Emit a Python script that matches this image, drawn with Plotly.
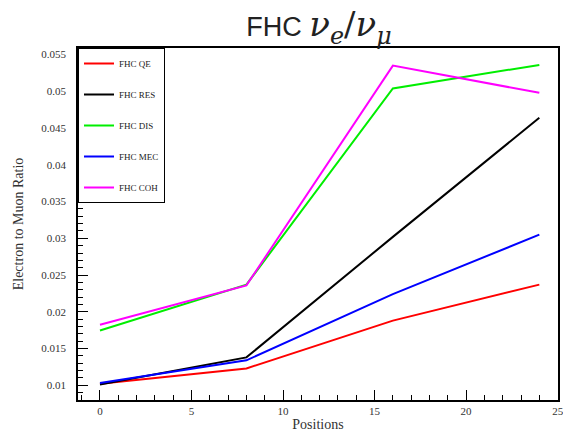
import plotly.graph_objects as go

positions = [0, 8, 16, 24]
fhc_qe = [0.0102, 0.0123, 0.0188, 0.0237]
fhc_res = [0.0101, 0.0138, 0.0302, 0.0464]
fhc_dis = [0.01745, 0.0237, 0.0504, 0.0536]
fhc_mec = [0.0103, 0.0134, 0.0224, 0.0305]
fhc_coh = [0.01825, 0.0236, 0.0535, 0.0498]

series = [
    ("FHC QE", fhc_qe, "#ff0000"),
    ("FHC RES", fhc_res, "#000000"),
    ("FHC DIS", fhc_dis, "#00ee00"),
    ("FHC MEC", fhc_mec, "#0000ff"),
    ("FHC COH", fhc_coh, "#ff00ff"),
]

serif = "Liberation Serif, Times New Roman, serif"

fig = go.Figure()
for i, (name, vals, col) in enumerate(series):
    fig.add_trace(go.Scatter(
        x=positions, y=vals, name=name, mode="lines",
        line=dict(color=col, width=2),
        legendgroup=f"g{i}",
    ))

title_text = ("FHC <span style='font-family:DejaVu Serif;font-size:34px'>"
              "<i>ν</i><sub><i>e</i></sub>/<i>ν</i><sub><i>μ</i></sub></span>")

fig.update_layout(
    width=563, height=432,
    margin=dict(l=78, r=5, t=48, b=32),
    paper_bgcolor="white", plot_bgcolor="white",
    title=dict(
        text=title_text,
        x=319 / 563, xref="container", xanchor="center",
        y=1 - 27 / 432, yref="container", yanchor="middle",
        font=dict(family="Liberation Sans, Arial, sans-serif", size=27, color="#222"),
    ),
    showlegend=True,
    legend=dict(
        x=0, y=1, xref="paper", yref="paper", xanchor="left", yanchor="top",
        bgcolor="white", bordercolor="black", borderwidth=1,
        font=dict(family=serif, size=9, color="#222"),
        tracegroupgap=12,
        itemwidth=30,
    ),
    xaxis=dict(
        range=[-1.2, 25.02], tick0=0, dtick=5, automargin=False,
        ticklabeloverflow="allow",
        showline=True, linecolor="black", linewidth=1.5, mirror=True,
        ticks="inside", ticklen=10, tickwidth=1, tickcolor="black",
        minor=dict(ticks="inside", ticklen=5, dtick=1, tickcolor="black"),
        showgrid=False, zeroline=False,
        tickfont=dict(family=serif, size=11, color="#333"),
        title=dict(text="Positions", font=dict(family=serif, size=14, color="#333"), standoff=6),
    ),
    yaxis=dict(
        range=[0.008, 0.0559], tick0=0, dtick=0.005, automargin=False,
        showline=True, linecolor="black", linewidth=1.5, mirror=True,
        ticks="inside", ticklen=10, tickwidth=1, tickcolor="black",
        minor=dict(ticks="inside", ticklen=5, dtick=0.001, tickcolor="black"),
        showgrid=False, zeroline=False,
        tickformat="~g",
        ticklabelstandoff=8,
        tickfont=dict(family=serif, size=11, color="#333"),
        title=dict(text="Electron to Muon Ratio", font=dict(family=serif, size=14, color="#333"), standoff=14),
    ),
)

fig.write_html("out.html")
